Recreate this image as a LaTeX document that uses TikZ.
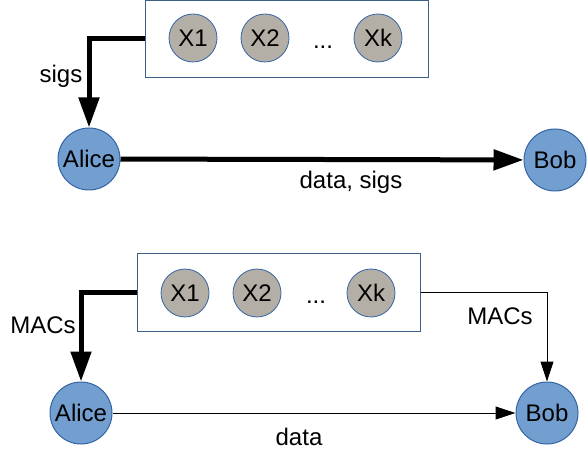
\documentclass[tikz,border=0pt]{standalone}
\usepackage{fontspec}
\setmainfont{Liberation Sans}
\usetikzlibrary{arrows.meta, positioning}

\definecolor{partyblue}{HTML}{729FCF}
\definecolor{partyline}{HTML}{3465A4}
\definecolor{keygray}{HTML}{B4AFA6}
\definecolor{boxline}{HTML}{3E5F86}

\begin{document}
\begin{tikzpicture}[x=0.5pt, y=-0.5pt,
    party/.style={circle, draw=partyline, fill=partyblue, line width=0.5pt, inner sep=0pt, minimum size=31pt, font=\fontsize{12}{14}\selectfont},
    key/.style={circle, draw=partyline, fill=keygray, line width=0.4pt, inner sep=0pt, minimum size=24pt, font=\fontsize{12}{14}\selectfont},
    keybox/.style={draw=boxline, line width=0.5pt, inner sep=0pt, minimum width=141.5pt, minimum height=38.5pt},
    lbl/.style={font=\fontsize{12}{14}\selectfont},
    fat/.style={line width=2.5pt, -{Triangle[length=15pt, width=10pt]}},
    slim/.style={line width=0.5pt, -{Triangle[length=10pt, width=6.5pt]}}]
    \useasboundingbox (0,0) rectangle (587,458);

    % Top: signatures
    \node[keybox] (box1) at (287,39) {};
    \node[key] (x11) at (193,38) {X1};
    \node[key] (x12) at (265,38) {X2};
    \node[lbl] (dots1) at (323,47) {...};
    \node[key] (x1k) at (378,38) {Xk};
    \node[party] (alice1) at (89,159) {Alice};
    \node[party] (bob1) at (555,160) {Bob};

    \draw[fat] (box1.west) -| (alice1.north);
    \node[lbl] (sigs1) at (61,76) {sigs};
    \draw[fat] (alice1) -- (bob1);
    \node[lbl] (data1) at (351,182) {data, sigs};

    % Bottom: MACs
    \node[keybox] (box2) at (278.5,292.5) {};
    \node[key] (x21) at (185,293) {X1};
    \node[key] (x22) at (257,293) {X2};
    \node[lbl] (dots2) at (316,302) {...};
    \node[key] (x2k) at (371,293) {Xk};
    \node[party] (alice2) at (81,413) {Alice};
    \node[party] (bob2) at (547,413) {Bob};

    \draw[fat] (box2.west) -| (alice2.north);
    \node[lbl] (macs1) at (43,325) {MACs};
    \draw[slim] (box2.east) -| (bob2.north);
    \node[lbl] (macs2) at (500,316) {MACs};
    \draw[slim] (alice2) -- (bob2);
    \node[lbl] (data2) at (299,437) {data};
\end{tikzpicture}
\end{document}
